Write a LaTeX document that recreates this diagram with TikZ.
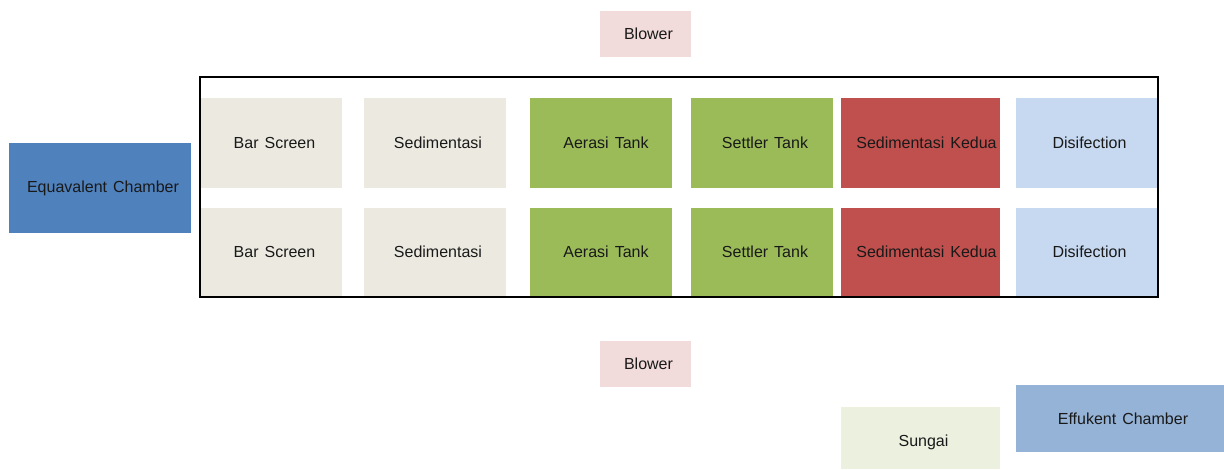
\documentclass[tikz,border=0pt]{standalone}
\usepackage{fontspec}
\setmainfont{Liberation Sans}
\definecolor{chamberblue}{HTML}{4F81BD}
\definecolor{effblue}{HTML}{95B3D7}
\definecolor{screenbeige}{HTML}{ECEAE0}
\definecolor{aergreen}{HTML}{9BBB59}
\definecolor{sedred}{HTML}{C0504D}
\definecolor{disblue}{HTML}{C6D9F1}
\definecolor{blowpink}{HTML}{F2DCDB}
\definecolor{rivergreen}{HTML}{EBF1DE}
\tikzset{
  unit/.style={rectangle, inner sep=0pt, draw=none,
    font=\fontsize{16}{19}\selectfont, text=black!90},
}
\newcommand\wsp{\hspace{6pt}}
% box: name, left, top, right, bottom (pixel units, y downwards), fill, text
\newcommand\pbox[7]{%
  \node[unit, fill=#6, minimum width={(#4-#2)*1pt}, minimum height={(#5-#3)*1pt}]
    (#1) at ({(#2+#4)/2}, {-(#3+#5)/2}) {\hspace*{6pt}#7};}
\begin{document}
\begin{tikzpicture}[x=1pt, y=1pt]
\useasboundingbox (0,0) rectangle (1224,-469);

% inflow chamber
\pbox{equal}{9}{143}{191}{233}{chamberblue}{Equavalent\wsp Chamber}

% two parallel treatment trains
\foreach \r/\t/\b in {a/98/188, b/208/296} {
  \pbox{bar\r}{201}{\t}{342}{\b}{screenbeige}{Bar\wsp Screen}
  \pbox{sed\r}{364}{\t}{506}{\b}{screenbeige}{Sedimentasi}
  \pbox{aer\r}{530}{\t}{672}{\b}{aergreen}{\hspace*{4pt}Aerasi\wsp Tank}
  \pbox{set\r}{691}{\t}{833}{\b}{aergreen}{Settler\wsp Tank}
  \pbox{sedk\r}{841}{\t}{1000}{\b}{sedred}{\hspace*{6pt}Sedimentasi\wsp Kedua}
  \pbox{dis\r}{1016}{\t}{1157}{\b}{disblue}{Disifection}
}

% frame around the treatment trains
\node[draw=black, line width=2.2pt, inner sep=0pt,
  minimum width=958pt, minimum height=220pt] (frame) at (679,-187) {};

% blowers
\pbox{blowtop}{600}{11}{691}{57}{blowpink}{Blower}
\pbox{blowbot}{600}{341}{691}{387}{blowpink}{Blower}

% outflow
\pbox{sungai}{841}{407}{1000}{469}{rivergreen}{\raisebox{-4pt}[\height][\depth]{Sungai}}
\pbox{effl}{1016}{385}{1224}{452}{effblue}{Effukent\wsp Chamber}
\end{tikzpicture}
\end{document}
